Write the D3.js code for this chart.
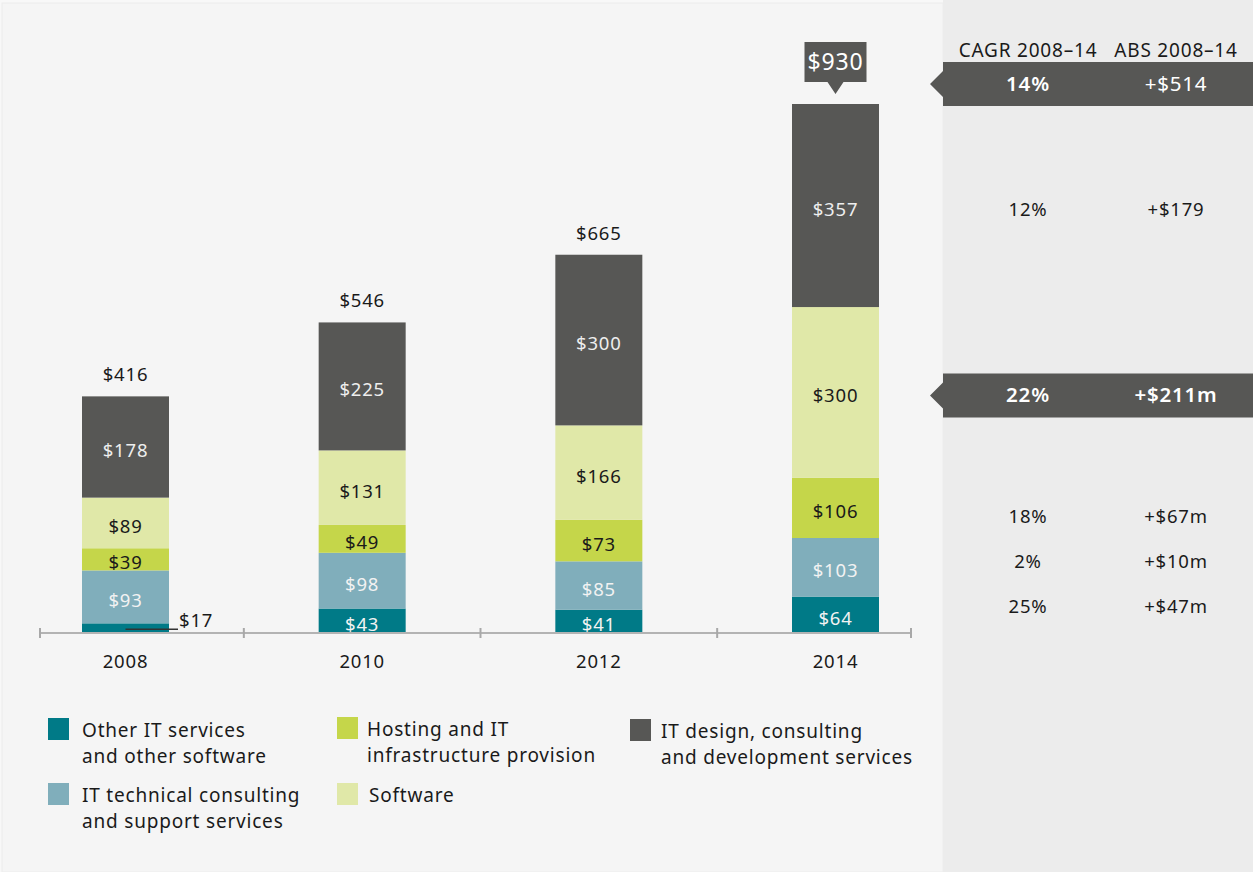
<!DOCTYPE html>
<html>
<head>
<meta charset="utf-8">
<script src="https://cdn.jsdelivr.net/npm/d3@7/dist/d3.min.js"></script>
<style>
  html, body { margin: 0; padding: 0; background: #f5f5f5; }
  svg { display: block; font-family: "Noto Sans", "Open Sans", sans-serif; }
  svg text { letter-spacing: 0.8px; }
</style>
</head>
<body>
<svg id="chart" width="1253" height="872"></svg>
<script>
// Market size by segment, $m
const years = ["2008", "2010", "2012", "2014"];
const seriesNames = [
  "Other IT services and other software",
  "IT technical consulting and support services",
  "Hosting and IT infrastructure provision",
  "Software",
  "IT design, consulting and development services"
];
const otherIT      = [17, 43, 41, 64];
const techSupport  = [93, 98, 85, 103];
const hosting      = [39, 49, 73, 106];
const software     = [89, 131, 166, 300];
const itDesign     = [178, 225, 300, 357];
const totals       = [416, 546, 665, 930];

// Growth 2008–14 for each segment (same order as seriesNames) and in total
const cagr = ["25%", "2%", "18%", "22%", "12%"];
const absChange = ["+$47m", "+$10m", "+$67m", "+$211m", "+$179"];
const highlighted = [false, false, false, true, false];
const totalCagr = "14%";
const totalAbs = "+$514";
const panelHeaders = ["CAGR 2008–14", "ABS 2008–14"];

const legendLines = [
  ["Other IT services", "and other software"],
  ["IT technical consulting", "and support services"],
  ["Hosting and IT", "infrastructure provision"],
  ["Software"],
  ["IT design, consulting", "and development services"]
];

const colors = ["#007a87", "#80aebb", "#c5d64a", "#e0e8a8", "#575755"];
const labelColors = ["#f2f2f2", "#f2f2f2", "#1a1a1a", "#1a1a1a", "#eeeeee"];

const svg = d3.select("#chart");
const W = 1253, H = 872;
const baseline = 633;
const panelX = 943;

// backgrounds
svg.append("rect").attr("x", 0).attr("y", 0).attr("width", W).attr("height", H).attr("fill", "#f8f8f8");
svg.append("rect").attr("x", 2).attr("y", 3).attr("width", panelX - 2).attr("height", H - 3)
  .attr("fill", "#f5f5f5").attr("stroke", "#ececec").attr("stroke-width", 1);
svg.append("rect").attr("x", panelX).attr("y", 0).attr("width", W - panelX).attr("height", H).attr("fill", "#ececec");

// scales
const x = d3.scalePoint().domain(years).range([125.5, 835.5]);
const y = d3.scaleLinear().domain([0, d3.max(totals)]).range([baseline, 104]);
const barW = 87;

// stack the series
const rows = years.map((yr, i) => ({
  year: yr, s0: otherIT[i], s1: techSupport[i], s2: hosting[i], s3: software[i], s4: itDesign[i]
}));
const keys = ["s0", "s1", "s2", "s3", "s4"];
const stacked = d3.stack().keys(keys)(rows);

const g = svg.append("g");
stacked.forEach((layer, si) => {
  layer.forEach((d, i) => {
    const y0 = y(d[0]), y1 = y(d[1]);
    g.append("rect")
      .attr("x", x(years[i]) - barW / 2)
      .attr("y", y1)
      .attr("width", barW)
      .attr("height", y0 - y1)
      .attr("fill", colors[si]);
    const v = d[1] - d[0];
    if (y0 - y1 >= 20) {
      g.append("text")
        .attr("x", x(years[i]))
        .attr("y", (y0 + y1) / 2 + 10)
        .attr("text-anchor", "middle")
        .attr("font-size", 18.5)
        .attr("fill", labelColors[si])
        .text("$" + v);
    } else {
      // small segment: leader line out to the right
      const ly = (y0 + y1) / 2 + 1;
      g.append("line")
        .attr("x1", x(years[i])).attr("x2", x(years[i]) + barW / 2 + 9)
        .attr("y1", ly).attr("y2", ly)
        .attr("stroke", "#333").attr("stroke-width", 1.5);
      g.append("text")
        .attr("x", x(years[i]) + barW / 2 + 10)
        .attr("y", ly - 2)
        .attr("font-size", 18.5)
        .attr("fill", "#1a1a1a")
        .text("$" + v);
    }
  });
});

// totals above bars
years.forEach((yr, i) => {
  const top = y(totals[i]);
  if (i === years.length - 1) {
    // callout box for the latest year
    const cx = x(yr), bw = 62, bh = 40, by = top - 62;
    g.append("path")
      .attr("d", `M${cx - bw / 2},${by} h${bw} v${bh} h${-bw / 2 + 8} l-8,12 l-8,-12 h${-bw / 2 + 8} Z`)
      .attr("fill", "#575755");
    g.append("text")
      .attr("x", cx).attr("y", by + bh / 2 + 8)
      .attr("text-anchor", "middle")
      .attr("font-size", 23)
      .attr("fill", "#ffffff")
      .text("$" + totals[i]);
  } else {
    g.append("text")
      .attr("x", x(yr)).attr("y", top - 15)
      .attr("text-anchor", "middle")
      .attr("font-size", 18.5)
      .attr("fill", "#1a1a1a")
      .text("$" + totals[i]);
  }
});

// axis
const axisLeft = 40, axisRight = 911;
const tickXs = [axisLeft];
for (let i = 0; i < years.length - 1; i++) tickXs.push((x(years[i]) + x(years[i + 1])) / 2);
tickXs.push(axisRight);
g.append("line")
  .attr("x1", axisLeft).attr("x2", axisRight)
  .attr("y1", baseline).attr("y2", baseline)
  .attr("stroke", "#b3b3b3").attr("stroke-width", 2);
g.selectAll(".tick").data(tickXs).enter().append("line")
  .attr("x1", d => d).attr("x2", d => d)
  .attr("y1", baseline - 5).attr("y2", baseline + 5)
  .attr("stroke", "#a8a8a8").attr("stroke-width", 2);
g.selectAll(".yearlabel").data(years).enter().append("text")
  .attr("x", d => x(d)).attr("y", 668)
  .attr("text-anchor", "middle")
  .attr("font-size", 18.5)
  .attr("fill", "#1a1a1a")
  .text(d => d);

// right-hand growth panel
const col1 = 1028, col2 = 1176;
panelHeaders.forEach((h, i) => {
  svg.append("text")
    .attr("x", i === 0 ? col1 : col2).attr("y", 57)
    .attr("text-anchor", "middle")
    .attr("font-size", 19)
    .attr("fill", "#1a1a1a")
    .text(h);
});

function band(cy) {
  const top = cy - 22, h = 44;
  svg.append("path")
    .attr("d", `M${panelX},${top} H${W} V${top + h} H${panelX} V${cy + 13} L${panelX - 13},${cy} L${panelX},${cy - 13} Z`)
    .attr("fill", "#575755");
}

function panelRow(cy, a, b, hl, boldB) {
  if (hl) band(cy);
  svg.append("text")
    .attr("x", col1).attr("y", cy + 7)
    .attr("text-anchor", "middle")
    .attr("font-size", hl ? 20.5 : 18.5)
    .attr("font-weight", hl ? 600 : 400)
    .attr("fill", hl ? "#ffffff" : "#1a1a1a")
    .text(a);
  svg.append("text")
    .attr("x", col2).attr("y", cy + 7)
    .attr("text-anchor", "middle")
    .attr("font-size", hl ? 20.5 : 18.5)
    .attr("font-weight", hl && boldB ? 600 : 400)
    .attr("fill", hl ? "#ffffff" : "#1a1a1a")
    .text(b);
}

// total row sits just above the latest bar
panelRow(y(d3.max(totals)) - 20, totalCagr, totalAbs, true, false);

// segment rows: large segments align with the latest bar; small ones are stacked up from the axis
const last = stacked.map(layer => layer[layer.length - 1]);
seriesNames.forEach((name, si) => {
  let cy;
  if (si < 3) cy = baseline - 27 - 45 * si;
  else cy = (y(last[si][0]) + y(last[si][1])) / 2 + 3;
  panelRow(cy, cagr[si], absChange[si], highlighted[si], true);
});

// legend
const legendPos = [
  { x: 48, y: 718, tx: 82 },
  { x: 48, y: 783, tx: 82 },
  { x: 337, y: 717, tx: 367 },
  { x: 337, y: 783, tx: 369 },
  { x: 630, y: 719, tx: 661 }
];
seriesNames.forEach((name, si) => {
  const p = legendPos[si];
  const lg = svg.append("g");
  lg.append("rect").attr("x", p.x).attr("y", p.y).attr("width", 21).attr("height", 22).attr("fill", colors[si]);
  const t = lg.append("text")
    .attr("x", p.tx).attr("y", p.y + 19)
    .attr("font-size", 19)
    .attr("fill", "#1a1a1a");
  legendLines[si].forEach((ln, li) => {
    t.append("tspan").attr("x", p.tx).attr("dy", li === 0 ? 0 : 25.5).text(ln);
  });
});
</script>
</body>
</html>
